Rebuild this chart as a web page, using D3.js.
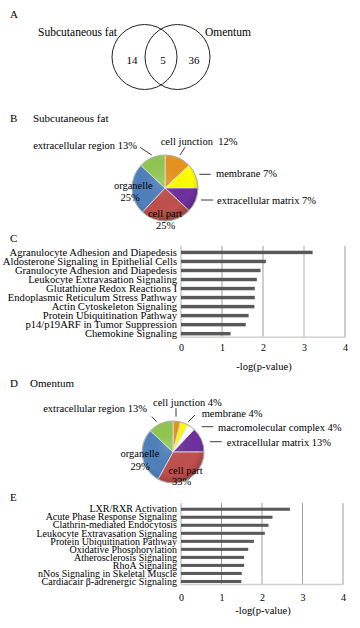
<!DOCTYPE html>
<html>
<head>
<meta charset="utf-8">
<script src="https://cdn.jsdelivr.net/npm/d3@7"></script>
<style>
  body { margin: 0; background: #fff; }
  svg { font-family: "Liberation Serif", "DejaVu Serif", serif; }
  text { white-space: pre; }
</style>
</head>
<body>
<div id="chart"></div>
<script>
// ---- data ----
const vennSets = ["Subcutaneous fat", "Omentum"]
const vennCounts = [14, 5, 36]   // only subcutaneous, both, only omentum

const subqCategories = ["cell junction", "membrane", "extracellular matrix", "cell part", "organelle", "extracellular region"]
const subqShares = [13, 12, 12, 25, 25, 13]   // slice sizes as drawn
const subqLabels = ["cell junction  12%", "membrane 7%", "extracellular matrix 7%", "cell part\n25%", "organelle\n25%", "extracellular region 13%"]

const omenCategories = ["cell junction", "membrane", "macromolecular complex", "extracellular matrix", "cell part", "organelle", "extracellular region"]
const omenShares = [4, 4, 4, 13, 33, 29, 13]
const omenLabels = ["cell junction 4%", "membrane 4%", "macromolecular complex 4%", "extracellular matrix 13%", "cell part\n33%", "organelle\n29%", "extracellular region 13%"]

const subqPathways = [
  "Agranulocyte Adhesion and Diapedesis",
  "Aldosterone Signaling in Epithelial Cells",
  "Granulocyte Adhesion and Diapedesis",
  "Leukocyte Extravasation Signaling",
  "Glutathione Redox Reactions I",
  "Endoplasmic Reticulum Stress Pathway",
  "Actin Cytoskeleton Signaling",
  "Protein Ubiquitination Pathway",
  "p14/p19ARF in Tumor Suppression",
  "Chemokine Signaling"
]
const subqLogP = [3.21, 2.07, 1.94, 1.85, 1.80, 1.80, 1.79, 1.65, 1.58, 1.21]

const omenPathways = [
  "LXR/RXR Activation",
  "Acute Phase Response Signaling",
  "Clathrin-mediated Endocytosis",
  "Leukocyte Extravasation Signaling",
  "Protein Ubiquitination Pathway",
  "Oxidative Phosphorylation",
  "Atherosclerosis Signaling",
  "RhoA Signaling",
  "nNos Signaling in Skeletal Muscle",
  "Cardiacair \u03b2-adrenergic Signaling"
]
const omenLogP = [2.69, 2.26, 2.16, 2.07, 1.80, 1.66, 1.56, 1.56, 1.50, 1.49]

const xTicks = [0, 1, 2, 3, 4]

const colorByCategory = {
  "cell junction": "#e8951f",
  "membrane": "#ffff00",
  "macromolecular complex": "#ffffff",
  "extracellular matrix": "#7030a0",
  "cell part": "#c0504d",
  "organelle": "#4f81bd",
  "extracellular region": "#92c850"
}

const width = 360, height = 628

const svg = d3.select("#chart").append("svg")
  .attr("width", width)
  .attr("height", height)

const defs = svg.append("defs")
const shade = defs.append("radialGradient").attr("id", "shade")
  .attr("cx", "45%").attr("cy", "40%").attr("r", "60%")
shade.append("stop").attr("offset", "0%").attr("stop-color", "#fff").attr("stop-opacity", 0.12)
shade.append("stop").attr("offset", "75%").attr("stop-color", "#000").attr("stop-opacity", 0)
shade.append("stop").attr("offset", "100%").attr("stop-color", "#000").attr("stop-opacity", 0.18)

// section letters / headings
function heading(x, y, txt) {
  svg.append("text").attr("x", x).attr("y", y)
    .attr("dominant-baseline", "central")
    .attr("font-size", 11).attr("fill", "#000").text(txt)
}
heading(10, 14, "A")
heading(10, 118, "B")
heading(33, 118, "Subcutaneous fat")
heading(10, 238, "C")
heading(10, 383, "D")
heading(30, 383, "Omentum")
heading(10, 497, "E")

// ---- A: venn ----
const venn = svg.append("g").attr("transform", "translate(161,57)")
const vx = d3.scalePoint().domain(vennSets).range([-16.5, 16.5])
venn.selectAll("circle").data(vennSets).join("circle")
  .attr("cx", d => vx(d)).attr("cy", 0).attr("r", 32.5)
  .attr("fill", "none").attr("stroke", "#222").attr("stroke-width", 1)
venn.append("text").attr("x", -44).attr("y", -25).attr("text-anchor", "end")
  .attr("dominant-baseline", "central").attr("font-size", 11.5).text(vennSets[0])
venn.append("text").attr("x", 44).attr("y", -25).attr("text-anchor", "start")
  .attr("dominant-baseline", "central").attr("font-size", 11.5).text(vennSets[1])
const vcount = d3.scalePoint().domain(d3.range(vennCounts.length)).range([-29, 33])
venn.selectAll("text.count").data(vennCounts).join("text").attr("class", "count")
  .attr("x", (d, i) => vcount(i)).attr("y", 3)
  .attr("text-anchor", "middle").attr("dominant-baseline", "central")
  .attr("font-size", 11).text(d => d)

// ---- pies ----
function drawPie(cx, cy, radius, categories, shares, labels, layout) {
  const g = svg.append("g").attr("transform", `translate(${cx},${cy})`)
  const pie = d3.pie().sort(null).value(d => d)
  const arc = d3.arc().innerRadius(0).outerRadius(radius)
  const slices = pie(shares)

  g.selectAll("path.slice").data(slices).join("path").attr("class", "slice")
    .attr("d", arc)
    .attr("fill", (d, i) => colorByCategory[categories[i]])
    .attr("stroke", "#e6e6e6").attr("stroke-width", 0.8)
  g.append("circle").attr("r", radius).attr("fill", "url(#shade)")
    .attr("stroke", "#9a9a9a").attr("stroke-width", 0.8)

  labels.forEach((lab, i) => {
    const L = layout[i]
    const lines = lab.split("\n")
    const t = g.append("text").attr("font-size", 10.5).attr("fill", "#000")
      .attr("text-anchor", L.anchor).attr("dominant-baseline", "central")
    lines.forEach((ln, j) => {
      t.append("tspan").attr("x", L.pos[j][0]).attr("y", L.pos[j][1]).text(ln)
    })
    if (L.line) {
      g.append("line")
        .attr("x1", L.line[0]).attr("y1", L.line[1])
        .attr("x2", L.line[2]).attr("y2", L.line[3])
        .attr("stroke", "#222").attr("stroke-width", 0.9)
    }
  })
}

drawPie(165, 188, 33, subqCategories, subqShares, subqLabels, [
  { anchor: "start", pos: [[-4.3, -47.3]], line: [20, -40.7, 15, -33] },
  { anchor: "start", pos: [[51, -14.7]], line: [34.3, -13.7, 45.7, -13.7] },
  { anchor: "start", pos: [[52, 12]], line: [36, 12, 48, 12] },
  { anchor: "middle", pos: [[0, 25.3], [0.7, 37]] },
  { anchor: "middle", pos: [[-31.7, -3], [-35, 9.3]] },
  { anchor: "end", pos: [[-28, -43.3]], line: [-25, -40.7, -13.3, -33] }
])

drawPie(173, 452, 31, omenCategories, omenShares, omenLabels, [
  { anchor: "start", pos: [[-20, -50.3]], line: [3, -43.7, 3, -35.3] },
  { anchor: "start", pos: [[28.7, -38.7]], line: [22, -37, 15.3, -30.3] },
  { anchor: "start", pos: [[45, -25.3]], line: [28.7, -25.3, 40.3, -25.3] },
  { anchor: "start", pos: [[53.7, -10.3]], line: [37, -10.3, 48.7, -10.3] },
  { anchor: "middle", pos: [[12.5, 18], [8.7, 28.7]] },
  { anchor: "middle", pos: [[-33, 1.3], [-33, 13.7]] },
  { anchor: "end", pos: [[-26, -43.7]], line: [-21.3, -35.3, -16.3, -30.3] }
])

// ---- bar charts ----
function drawBars(cfg) {
  const x = d3.scaleLinear().domain([0, 4]).range([181, cfg.right])
  const y = d3.scaleBand().domain(cfg.names).range([cfg.top, cfg.bottom])
    .paddingInner(0.62).paddingOuter(0.2)
  const g = svg.append("g")

  // gridlines
  g.selectAll("line.grid").data(xTicks.slice(1)).join("line").attr("class", "grid")
    .attr("x1", d => x(d)).attr("x2", d => x(d))
    .attr("y1", cfg.top - 3).attr("y2", cfg.bottom)
    .attr("stroke", d => d === cfg.lightTick ? "#d6d6d6" : "#9e9e9e")
    .attr("stroke-width", d => d === cfg.lightTick ? 2 : 1)

  // axis frame
  g.append("line").attr("x1", x(0)).attr("x2", x(0))
    .attr("y1", cfg.top - 3).attr("y2", cfg.bottom)
    .attr("stroke", "#c8c8c8").attr("stroke-width", 1.5)
  g.append("line").attr("x1", x(0)).attr("x2", x(4))
    .attr("y1", cfg.bottom).attr("y2", cfg.bottom)
    .attr("stroke", "#d0d0d0").attr("stroke-width", 1.5)

  g.selectAll("rect").data(cfg.values).join("rect")
    .attr("x", x(0))
    .attr("y", (d, i) => y(cfg.names[i]))
    .attr("width", d => x(d) - x(0))
    .attr("height", y.bandwidth())
    .attr("fill", "#595959")

  const yAxis = g.append("g").attr("transform", `translate(${x(0)},0)`)
    .call(d3.axisLeft(y).tickSize(0).tickPadding(4))
  yAxis.select(".domain").remove()
  yAxis.selectAll("text").attr("font-family", "Liberation Serif")
    .attr("font-size", cfg.labelSize).attr("fill", "#000")

  const xAxis = g.append("g").attr("transform", `translate(0,${cfg.bottom})`)
    .call(d3.axisBottom(x).tickValues(xTicks).tickFormat(d3.format("d")).tickSize(0).tickPadding(cfg.tickPad))
  xAxis.select(".domain").remove()
  xAxis.selectAll("text").attr("font-family", "Liberation Serif")
    .attr("font-size", 10).attr("fill", "#000")

  g.append("text").attr("x", (x(0) + x(4)) / 2 + 1).attr("y", cfg.titleY)
    .attr("text-anchor", "middle").attr("dominant-baseline", "central")
    .attr("font-size", 10.5).attr("fill", "#000").text("-log(p-value)")
}

drawBars({ names: subqPathways, values: subqLogP, top: 248.9, bottom: 337.2, right: 345,
  labelSize: 10.6, tickPad: 7, titleY: 366, lightTick: 3 })
drawBars({ names: omenPathways, values: omenLogP, top: 506.1, bottom: 584.6, right: 343,
  labelSize: 10, tickPad: 9, titleY: 610, lightTick: null })
</script>
</body>
</html>
